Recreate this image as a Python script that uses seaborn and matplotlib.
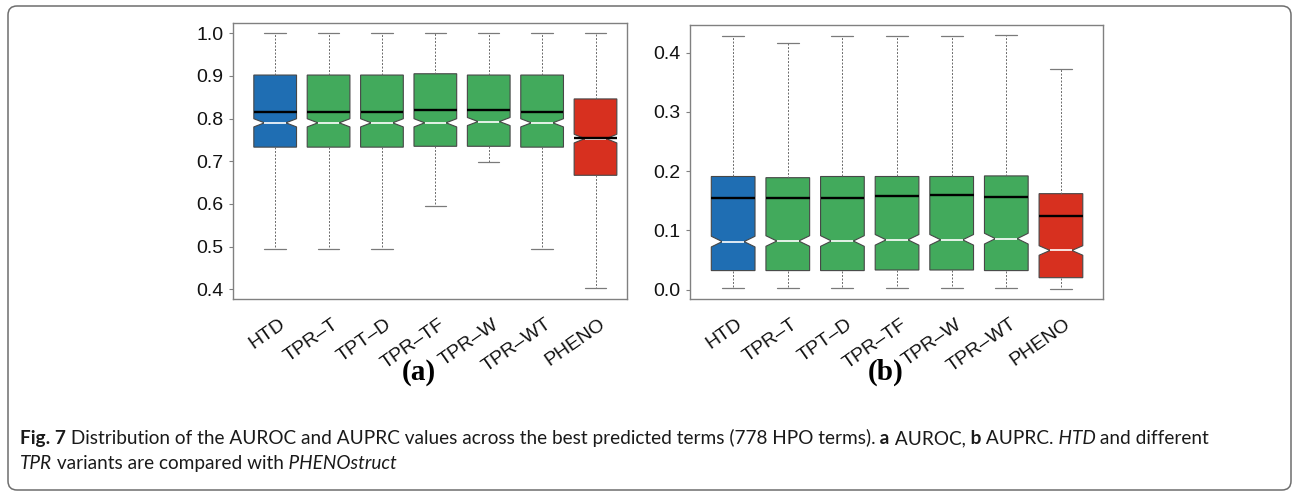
import numpy as np
import pandas as pd
import matplotlib
matplotlib.use("Agg")
import matplotlib.pyplot as plt
import seaborn as sns
from matplotlib.patches import FancyBboxPatch
from matplotlib.transforms import IdentityTransform, ScaledTranslation

# ---------------- data ----------------
methods = ["HTD", "TPR–T", "TPT–D", "TPR–TF", "TPR–W", "TPR–WT", "PHENO"]
n_terms = 778

auroc_whislo = [0.494, 0.494, 0.494, 0.594, 0.698, 0.494, 0.402]
auroc_q1 = [0.733, 0.733, 0.733, 0.735, 0.735, 0.733, 0.667]
auroc_med = [0.790, 0.790, 0.790, 0.790, 0.793, 0.790, 0.753]
auroc_mean = [0.815, 0.815, 0.815, 0.819, 0.821, 0.815, 0.755]
auroc_q3 = [0.902, 0.902, 0.902, 0.905, 0.902, 0.902, 0.846]
auroc_whishi = [1.000, 1.000, 1.000, 1.000, 1.000, 1.000, 1.000]

auprc_whislo = [0.002, 0.002, 0.002, 0.003, 0.003, 0.002, 0.001]
auprc_q1 = [0.032, 0.032, 0.032, 0.033, 0.033, 0.032, 0.020]
auprc_med = [0.081, 0.082, 0.082, 0.084, 0.084, 0.086, 0.066]
auprc_mean = [0.155, 0.155, 0.155, 0.158, 0.160, 0.157, 0.124]
auprc_q3 = [0.191, 0.189, 0.191, 0.191, 0.191, 0.192, 0.162]
auprc_whishi = [0.429, 0.417, 0.429, 0.429, 0.429, 0.430, 0.373]

auroc_ticks = [0.4, 0.5, 0.6, 0.7, 0.8, 0.9, 1.0]
auprc_ticks = [0.0, 0.1, 0.2, 0.3, 0.4]

box_colors = ["#1f6eb3", "#42aa5c", "#42aa5c", "#42aa5c", "#42aa5c", "#42aa5c", "#d7301f"]

# ---------------- style ----------------
sns.set_theme(context="notebook", style="white")
plt.rcParams["font.family"] = ["Liberation Sans", "DejaVu Sans"]

W, H = 1294, 493
fig = plt.figure(figsize=(W / 100, H / 100), dpi=100)
fig.patch.set_facecolor("white")


def px_axes(x0, x1, ytop, ybot):
    return fig.add_axes([x0 / W, 1 - ybot / H, (x1 - x0) / W, (ybot - ytop) / H])


ax1 = px_axes(233, 627, 23, 299)
ax2 = px_axes(690, 1103, 25, 299)


def draw_panel(ax, lo, q1, med, mean, q3, hi, ticks, ylim, xlim):
    stats = []
    for m, a, b, c, d, e, f in zip(methods, lo, q1, med, mean, q3, hi):
        half = 1.58 * (e - b) / np.sqrt(n_terms)
        stats.append(dict(label=m, whislo=a, q1=b, med=c, mean=d, q3=e,
                          whishi=f, cilo=c - half, cihi=c + half, fliers=[]))
    df = pd.DataFrame({"method": methods, "value": med})
    sns.boxplot(
        data=df, x="method", y="value", ax=ax, width=0.8, color=box_colors[1],
        saturation=1, linecolor="#474747", linewidth=0.8,
        bxpstats=stats, notch=True, showmeans=True, meanline=True,
        showfliers=False,
        meanprops=dict(color="black", linestyle="-", linewidth=1.7),
        medianprops=dict(color="white", linewidth=1.2),
        whiskerprops=dict(color="#6a6a6a", linestyle=(0, (2, 1.6)), linewidth=0.7),
        capprops=dict(color="#7a7a7a", linewidth=0.9),
    )
    for patch, c in zip(ax.patches, box_colors):
        patch.set_facecolor(c)
    ax.set_xlim(*xlim)
    ax.set_ylim(*ylim)
    ax.set_yticks(ticks)
    ax.set_yticklabels([f"{t:.1f}" for t in ticks])
    ax.set_xlabel("")
    ax.set_ylabel("")
    for s in ax.spines.values():
        s.set_visible(True)
        s.set_color("#808080")
        s.set_linewidth(1.0)
    ax.tick_params(axis="y", length=3, width=0.8, color="#808080",
                   labelsize=14, pad=4, labelcolor="#111111", left=True)
    ax.tick_params(axis="x", length=0, pad=17, labelsize=14, labelcolor="#111111")
    shift = ScaledTranslation(8 / 100, 0, fig.dpi_scale_trans)
    for lbl in ax.get_xticklabels():
        lbl.set_rotation(35)
        lbl.set_ha("right")
        lbl.set_va("center")
        lbl.set_rotation_mode("anchor")
        lbl.set_transform(lbl.get_transform() + shift)


draw_panel(ax1, auroc_whislo, auroc_q1, auroc_med, auroc_mean, auroc_q3,
           auroc_whishi, auroc_ticks, (0.377, 1.024), (-0.79, 6.59))
draw_panel(ax2, auprc_whislo, auprc_q1, auprc_med, auprc_mean, auprc_q3,
           auprc_whishi, auprc_ticks, (-0.016, 0.447), (-0.79, 6.77))

# panel labels
fig.text(419 / W, 1 - 372 / H, "(a)", ha="center", va="center",
         family="Liberation Serif", fontweight="bold", fontsize=21, color="black")
fig.text(886 / W, 1 - 372 / H, "(b)", ha="center", va="center",
         family="Liberation Serif", fontweight="bold", fontsize=21, color="black")

# outer frame
frame = FancyBboxPatch((8, 3), 1283, 484, boxstyle="round,pad=0,rounding_size=9",
                       transform=IdentityTransform(), fill=False,
                       edgecolor="#6e6e6e", linewidth=1.1)
fig.patches.append(frame)

# caption
cap_font = "Lato"
line1 = [("Fig. 7", "bold", "normal"),
         (" Distribution of the AUROC and AUPRC values across the best predicted terms (778 HPO terms).", "normal", "normal"),
         (" a", "bold", "normal"), (" AUROC,", "normal", "normal"),
         (" b", "bold", "normal"), (" AUPRC.", "normal", "normal"),
         (" HTD", "normal", "italic"), (" and different", "normal", "normal")]
line2 = [("TPR", "normal", "italic"),
         (" variants are compared with", "normal", "normal"),
         (" PHENOstruct", "normal", "italic")]

renderer = fig.canvas.get_renderer()


def draw_line(segs, x_px, y_px, size):
    x = x_px
    arts = []
    for txt, wt, st in segs:
        t = fig.text(x / W, 1 - y_px / H, txt, fontsize=size, fontweight=wt,
                     fontstyle=st, family=cap_font, ha="left", va="baseline",
                     color="#1a1a1a")
        bb = t.get_window_extent(renderer)
        x += bb.width
        arts.append(t)
    return x - x_px, arts


w0, arts = draw_line(line1, 20, 444, 10)
for a in arts:
    a.remove()
size = 10 * (1210 - 20) / w0
draw_line(line1, 20, 444, size)
draw_line(line2, 20, 469, size)

fig.savefig("out.png", dpi=100, facecolor="white")
